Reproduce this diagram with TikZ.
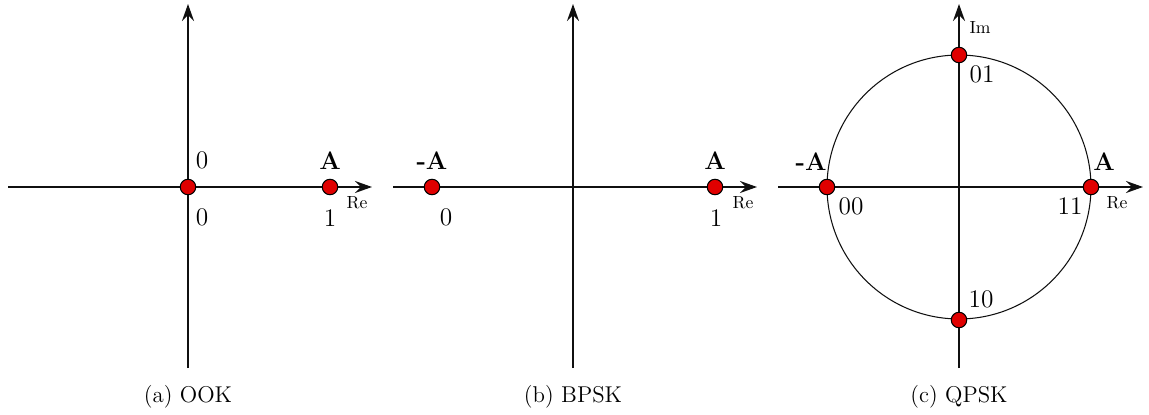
\documentclass[tikz,border=0pt]{standalone}
\usepackage{tikz}
\usetikzlibrary{positioning,arrows.meta}
\definecolor{dotred}{HTML}{E00000}
\definecolor{axisgray}{HTML}{101010}

\begin{document}
\begin{tikzpicture}[x=0.02cm, y=-0.02cm,
  axis/.style={-{Stealth[length=3.4mm, width=2.4mm, inset=1.2mm]}, line width=1.1pt, color=axisgray},
  symb/.style={circle, draw=black, fill=dotred, line width=0.6pt, minimum size=0.31cm, inner sep=0pt},
  lbl/.style={font=\Large, inner sep=1pt},
  amp/.style={font=\Large\bfseries, inner sep=1pt},
  axlbl/.style={font=\normalsize, inner sep=1pt},
  capt/.style={font=\fontsize{13}{15}\selectfont, inner sep=1pt}]
  \useasboundingbox (0,0) rectangle (1149,415);

  % (a) OOK
  \coordinate (aW) at (8,187);   \coordinate (aE) at (372,187);
  \coordinate (aS) at (188,368); \coordinate (aN) at (188,4);
  \draw[axis] (aW) -- (aE);
  \draw[axis] (aS) -- (aN);
  \node[symb] (aZero) at (188,187) {};
  \node[symb] (aOne) at (330,187) {};
  \node[lbl] (aZeroTop) at (202,160) {0};
  \node[lbl] (aZeroBit) at (202,217) {0};
  \node[amp] (aAmp) at (330,161) {A};
  \node[lbl] (aOneBit) at (330,218) {1};
  \node[axlbl] (aRe) at (357,203) {Re};
  \node[capt] (aCap) at (188,397) {(a) OOK};

  % (b) BPSK
  \coordinate (bW) at (393,187);  \coordinate (bE) at (757,187);
  \coordinate (bS) at (573,368);  \coordinate (bN) at (573,4);
  \draw[axis] (bW) -- (bE);
  \draw[axis] (bS) -- (bN);
  \node[symb] (bZero) at (432,187) {};
  \node[symb] (bOne) at (715,187) {};
  \node[amp] (bNeg) at (432,161) {-A};
  \node[amp] (bAmp) at (715,161) {A};
  \node[lbl] (bZeroBit) at (446,217) {0};
  \node[lbl] (bOneBit) at (716,218) {1};
  \node[axlbl] (bRe) at (743,203) {Re};
  \node[capt] (bCap) at (573,397) {(b) BPSK};

  % (c) QPSK
  \coordinate (cW) at (778,187);  \coordinate (cE) at (1143,187);
  \coordinate (cS) at (959,368);  \coordinate (cN) at (959,4);
  \coordinate (cO) at (959,187);
  \draw[line width=0.6pt, color=axisgray] (cO) circle[radius=2.64cm];
  \draw[axis] (cW) -- (cE);
  \draw[axis] (cS) -- (cN);
  \node[symb] (cLeft) at (827,187) {};
  \node[symb] (cRight) at (1091,187) {};
  \node[symb] (cTop) at (959,55) {};
  \node[symb] (cBot) at (959,320) {};
  \node[axlbl] (cIm) at (980,28) {Im};
  \node[lbl] (cTopBit) at (982,74) {01};
  \node[lbl] (cBotBit) at (981,299) {10};
  \node[amp] (cNeg) at (811,162) {-A};
  \node[amp] (cAmp) at (1104,162) {A};
  \node[lbl] (cLeftBit) at (851,206) {00};
  \node[lbl] (cRightBit) at (1070,206) {11};
  \node[axlbl] (cRe) at (1117,203) {Re};
  \node[capt] (cCap) at (959,397) {(c) QPSK};
\end{tikzpicture}
\end{document}
